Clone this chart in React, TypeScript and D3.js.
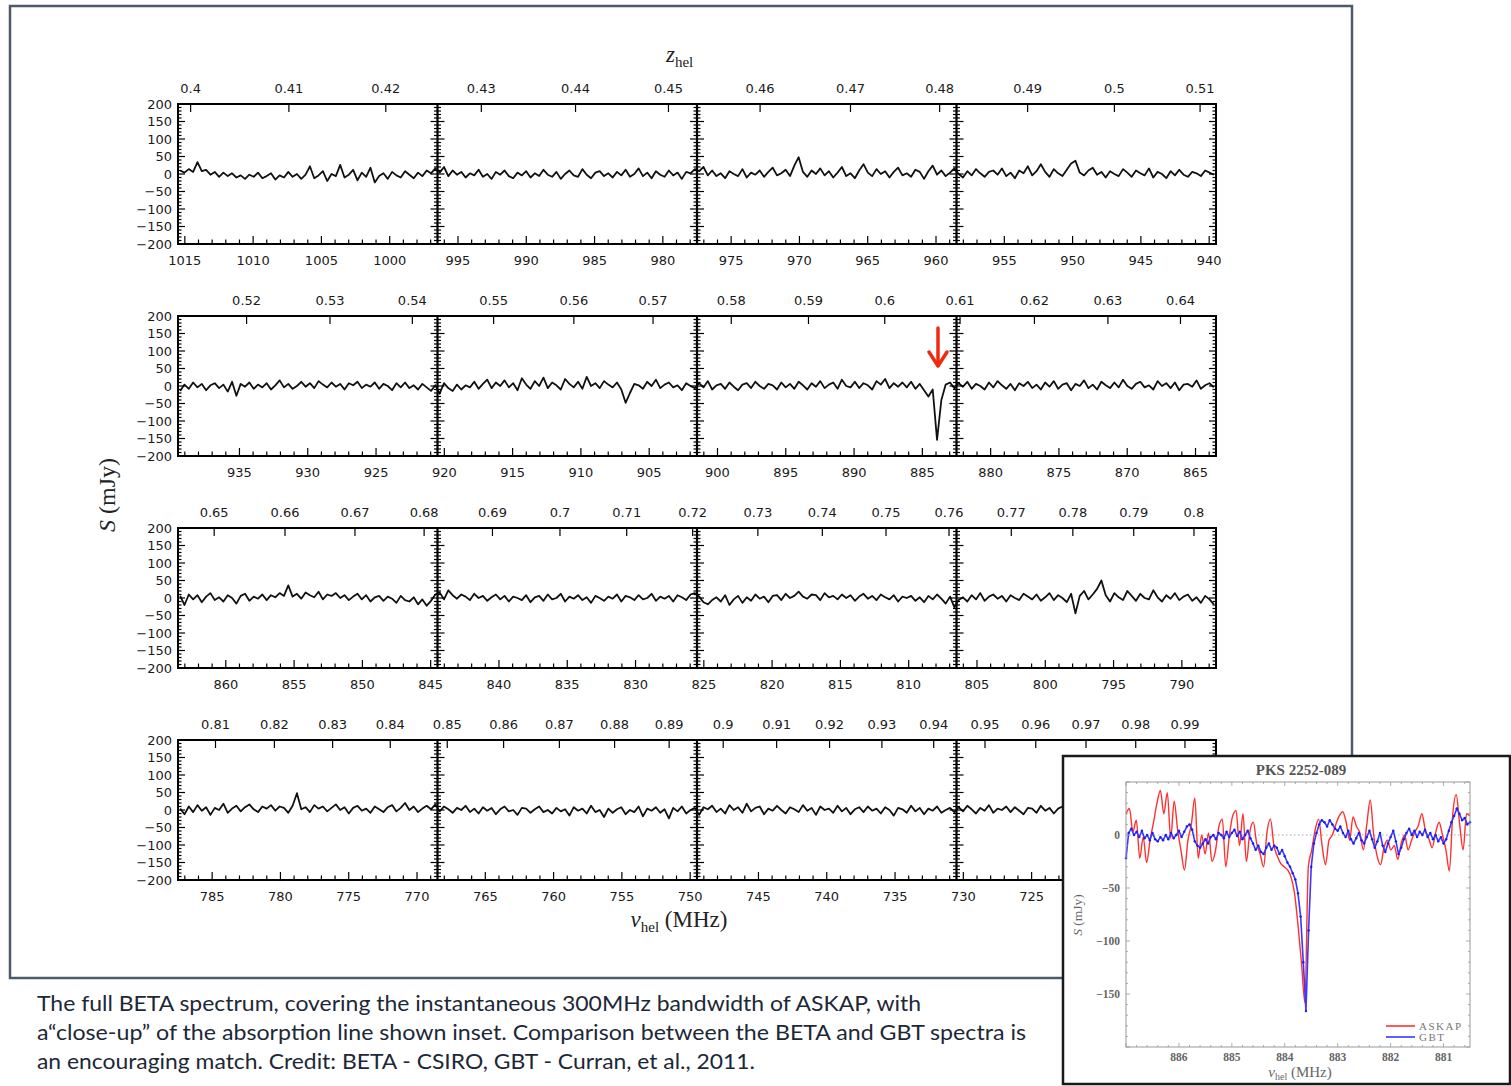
import React from "react";
import * as d3 from "d3";

// ---------------- DATA ----------------
const ROW_STARTS = [1015.5, 939.5, 863.5, 787.5]; // MHz at left edge of each row
const ROW_SPAN = 76; // MHz per row
const Y_TICKS = [-200, -150, -100, -50, 0, 50, 100, 150, 200];
const Z_TICKS = [
  [0.4, 0.41, 0.42, 0.43, 0.44, 0.45, 0.46, 0.47, 0.48, 0.49, 0.5, 0.51],
  [0.52, 0.53, 0.54, 0.55, 0.56, 0.57, 0.58, 0.59, 0.6, 0.61, 0.62, 0.63, 0.64],
  [0.65, 0.66, 0.67, 0.68, 0.69, 0.7, 0.71, 0.72, 0.73, 0.74, 0.75, 0.76, 0.77, 0.78, 0.79, 0.8],
  [0.81, 0.82, 0.83, 0.84, 0.85, 0.86, 0.87, 0.88, 0.89, 0.9, 0.91, 0.92, 0.93, 0.94, 0.95, 0.96, 0.97, 0.98, 0.99],
];
// bottom labels (labels of the last row beyond 725 MHz lie under the inset)
const NU_TICKS = [
  [1015, 1010, 1005, 1000, 995, 990, 985, 980, 975, 970, 965, 960, 955, 950, 945, 940],
  [935, 930, 925, 920, 915, 910, 905, 900, 895, 890, 885, 880, 875, 870, 865],
  [860, 855, 850, 845, 840, 835, 830, 825, 820, 815, 810, 805, 800, 795, 790],
  [785, 780, 775, 770, 765, 760, 755, 750, 745, 740, 735, 730, 725],
];

const row1 = [
  10, 4, 14, 6, 34, 8, 12, -2, 6, -8, 4, -6, 2, -10, -4, -14, -2, -8, 4, -12,
  -6, 2, -16, -4, -10, 6, -8, 0, -14, -2, 22, -12, -4, 8, -20, 0, -6, 26, -10, -2,
  12, -18, 4, -8, 18, -24, -6, 2, -14, 6, -4, -10, 8, -2, -12, 4, -6, 10, 2, 16,
  4, 20, -6, 10, -2, 6, -10, 2, -4, 12, -8, 0, -14, 6, -2, 10, -6, -12, 4, -4,
  8, -10, 2, -6, 12, -2, -8, 6, -14, 0, 10, -4, -8, 14, -2, -12, 4, 8, -6, 2,
  -10, 6, -4, 12, -8, 0, 16, -6, 4, -12, 8, -2, -8, 10, -4, 4, -14, 6, 2, 14,
  8, 20, -4, 10, -6, 2, -12, 8, 0, -6, 14, -10, 4, -2, 10, -8, 6, 18, -4, 2,
  12, -6, 24, 48, 6, -8, 10, 0, 16, -4, 8, -10, 4, 20, -6, 2, -12, 10, 28, 4,
  -6, 14, 0, 8, -10, 6, 18, -4, 2, -8, 12, 6, -14, 8, 24, -2, 10, -6, 4, 16,
  0, -10, 8, -4, 14, 2, -8, 6, 10, -2, 16, -6, 4, -12, 10, 2, 22, -4, 8, 28,
  6, -8, 14, 2, -6, 12, 30, 38, 4, -4, 10, 18, -2, 6, -10, 8, 0, -6, 14, 4,
  -8, 10, 2, -4, 16, -10, 6, 0, -12, 8, -4, 12, -2, -8, 6, 2, -6, 10, 4, -2,
];
const row2 = [
  -14, 4, -8, 10, -4, 6, -12, 2, 8, -6, 4, -16, 12, -28, 6, -2, 10, -8, 4, -4,
  8, -10, 2, 16, -4, 6, -8, 0, 12, -2, 8, -6, 14, 4, -4, 10, -2, 6, -10, 8,
  2, 12, -6, 4, -2, 10, -8, 6, 0, -12, 8, -4, 10, -6, 2, -10, 6, -4, -14, 2,
  -22, 8, -6, -14, 4, -10, 2, -4, 12, -8, 6, 18, -6, 10, 0, 16, -4, 8, -12, 22,
  4, -8, 14, 0, 24, -6, 10, 2, -10, 20, 6, -4, 12, -8, 26, 0, 8, -6, 14, 4,
  -4, 10, -10, -48, -20, 6, 2, -8, 12, 0, 18, -6, 4, 10, -4, 2, -12, 8, 0, -6,
  8, -4, 14, -10, 2, 6, -8, 10, -2, -12, 4, 8, -6, 12, 0, -8, 6, 2, -10, 10,
  -4, 6, -8, 12, 2, -10, 8, -2, 14, -6, 4, 10, -8, 18, 0, -4, 12, -6, 8, 2,
  -10, 14, 4, 20, -6, 8, -2, 10, -4, 12, -8, 6, -12, -30, -10, -154, -40, 4, 10, -6,
  8, -2, 12, -8, 6, 0, -10, 10, -4, 14, 2, -8, 6, -12, 8, 0, 12, -6, 4, -10,
  10, -2, 14, -8, 4, 8, -12, 6, 0, 16, -6, 4, -10, 12, 2, -6, 10, -4, 18, 0,
  -8, 6, 12, -4, 2, -10, 14, 0, 8, -6, 10, -12, 4, 6, -2, 16, -8, 2, 8, -4,
];
const row3 = [
  6, -20, 10, -4, 8, -12, 4, 14, -6, 2, -10, 8, 0, -16, 6, 12, -8, 4, -2, 10,
  -6, 8, 2, 14, 6, 36, 4, 12, -2, 16, 8, 2, 18, -4, 10, 6, 14, 0, 8, -6,
  4, 12, -4, 8, -10, 2, 6, -8, 4, -2, -14, 6, -6, -10, 2, -18, -4, -22, -8, 10,
  16, -4, 22, 8, -2, 10, 4, -6, 12, 0, 6, -8, 2, 10, -4, 6, -10, 4, 0, -6,
  8, -12, 2, 6, -8, 10, -4, 0, 12, -10, 4, -2, 8, -6, 2, -14, 6, 0, -8, 4,
  -2, 10, -10, 6, 2, -6, 8, -4, 0, 12, -8, 4, -2, 6, -10, 8, 2, -6, 10, 14,
  4, -12, -18, -6, 2, -10, 8, -20, -4, 6, -14, 2, -8, 10, -2, 4, -12, 6, 8, -6,
  12, 0, 6, 18, 4, -2, 10, 8, -6, 14, 2, 6, -4, 10, 0, 8, -8, 4, 12, -2,
  6, -6, 10, 2, -4, 8, -10, 4, 0, 6, -8, 2, -12, 6, -4, 10, -2, -16, 4, -26,
  -6, 2, -10, 8, -4, 14, -8, 4, 10, -2, 6, -10, 8, 0, -6, 12, 4, -4, 10, -8,
  2, 14, -6, 8, 0, -12, 12, -44, 6, 20, -4, 10, 26, 50, 8, -10, 14, 2, -6, 20,
  6, -8, 12, 0, -4, 22, 2, -10, 8, -2, 14, -6, 4, 10, -8, 2, -14, 6, -4, -18,
];
const row4 = [
  4, -12, 10, -6, 14, -2, 8, -14, 6, 0, 18, -8, 4, 12, -4, 8, 16, 2, -6, 10,
  4, 14, -2, 10, 6, -8, 12, 48, 2, 8, -6, 14, 4, 10, -4, 6, 16, 0, 8, -10,
  6, 12, -2, 4, -8, 10, 2, -6, 8, 14, -4, 6, 20, 0, 10, -6, 4, 12, 2, 16,
  -4, 10, 2, -8, 6, 0, 12, -6, 4, -10, 8, -2, 6, -12, 2, 10, -4, 0, -14, 6,
  4, -8, 2, 10, -6, 0, -10, 6, -4, 2, -16, 8, -2, 4, -10, 12, -6, 0, -20, 4,
  -8, 2, 8, -12, 0, -6, 10, -18, 4, -2, 8, -8, 2, -24, 6, -4, 10, -10, 0, 6,
  -14, 8, 2, 12, -6, 4, -10, 14, 0, 8, -8, 18, -4, 6, 10, -12, 4, -2, 12, 0,
  -10, 8, 2, -6, 14, -2, 6, -14, 10, 0, 4, -8, 12, -4, 6, -12, 2, 8, -6, 10,
  -2, 4, -10, 8, 0, -16, 6, 2, -8, 12, -4, 6, -12, 4, -2, 10, -8, 0, 6, -6,
  8, -4, 12, 2, -10, 6, -2, 14, -8, 4, 0, 10, -6, 8, -2, -12, 6, 4, -8, 12,
  -2, 6, -10, 4, 10, -6, 2, -14, 8, 0, 6, -8, 12, -2, 4, -10, 8, -4, 0, 6,
  -8, 10, 2, -6, 14, -4, 6, -12, 2, 8, -6, 12, 0, -10, 6, 4, -8, 10, -2, 4,
];
const ROWS = [row1, row2, row3, row4];

// inset ("close-up") data
const ASKAP_START = 887.0;
const ASKAP_STEP = 0.065;
const ASKAP = [
  20, 25, 3, 14, -22, -2, -26, -5, 12, 30, 42, 20, 40, -3, 32, 5, -15, -33, -5, 10,
  35, -22, 0, -18, 2, -25, -15, 8, 15, -30, -2, 18, 23, -10, 20, -25, 3, 12, -8, -18,
  -30, 3, 15, -10, -20, -27, -30, -33, -40, -55, -85, -120, -158, -30, -14, 5, 15, -10, -28, -5,
  0, 10, 18, 22, 12, -5, 17, 8, 2, -14, 10, 33, 0, -20, -28, -12, -5, -14, -10, -23,
  -8, 0, -14, -5, 3, 9, 20, 5, -3, -12, 2, 12, 0, -14, -34, 20, 38, 10, -14, 20, 18,
];
const GBT_START = 887.0;
const GBT_STEP = 0.05;
const GBT = [
  -22, 2, 6, 0, 3, -2, 4, -3, 0, -5, 2, -4, -6, -2, -5, 0, -4, 2, -3, 0,
  4, -2, 3, 8, 10, 5, -6, -10, -12, -8, -4, -8, -2, 0, -4, 2, 0, -3, 3, -2,
  2, 5, -1, 3, -4, 0, 4, -3, -8, -14, -10, -16, -18, -12, -8, -14, -10, -12, -18, -14,
  -20, -26, -30, -36, -42, -55, -77, -120, -166, -90, -30, -8, 2, 10, 14, 12, 8, 14, 10, 6,
  4, 8, 2, -2, 4, -4, -8, -3, 2, -5, -8, -2, 4, -4, -12, -6, 2, -10, -16, -8,
  -2, 4, -6, -18, -12, -4, 2, 6, 0, 4, -2, 3, 0, 5, -2, 2, -4, 0, -6, -2,
  -8, -4, 4, 12, 18, 25, 20, 14, 16, 10, 12,
];
const INSET_X_TICKS = [886, 885, 884, 883, 882, 881];
const INSET_Y_TICKS = [0, -50, -100, -150];
const LEGEND = [
  { name: "ASKAP", color: "#ff3030" },
  { name: "GBT", color: "#3838ff" },
];
const CAPTION = [
  "The full BETA spectrum, covering the instantaneous 300MHz bandwidth of ASKAP, with",
  "a\u201cclose-up\u201d of the absorption line shown inset. Comparison between the BETA and GBT spectra is",
  "an encouraging match. Credit: BETA - CSIRO, GBT - Curran, et al., 2011.",
];

// ---------------- LAYOUT ----------------
const W = 1511;
const H = 1086;
const L = 178;
const R = 1216;
const ROW_TOPS = [104, 316, 528, 740];
const ROW_H = 140;
const REST = 1420.405752;
const SANS = "'DejaVu Sans', sans-serif";
const SERIF = "'Liberation Serif', 'DejaVu Serif', serif";
const CAP_W = [884, 989, 718];

const fmtZ = (z: number) => String(parseFloat(z.toFixed(2)));
const minus = (v: number) => (v < 0 ? "\u2212" + Math.abs(v) : String(v));

function Row({ r }: { r: number }) {
  const start = ROW_STARTS[r];
  const top = ROW_TOPS[r];
  const bottom = top + ROW_H;
  const x = d3.scaleLinear().domain([start, start - ROW_SPAN]).range([L, R]);
  const y = d3.scaleLinear().domain([-200, 200]).range([bottom, top]);
  const data = ROWS[r];
  const n = data.length;
  const line = d3
    .line<number>()
    .x((_, i) => x(start - ((i + 0.5) * ROW_SPAN) / n))
    .y((d) => y(d));
  const dividers = d3.range(5).map((k) => L + (k * (R - L)) / 4);
  const minorY = d3.range(-200, 201, 10);
  const minorNu = d3.range(Math.ceil(start - ROW_SPAN), Math.floor(start) + 1);
  const ticks: JSX.Element[] = [];
  dividers.forEach((dx, k) => {
    minorY.forEach((v) => {
      const len = v % 50 === 0 ? 7 : 3.5;
      if (v === -200 || v === 200) return;
      if (k < 4) ticks.push(<line key={`r${k}_${v}`} x1={dx} x2={dx + len} y1={y(v)} y2={y(v)} />);
      if (k > 0) ticks.push(<line key={`l${k}_${v}`} x1={dx} x2={dx - len} y1={y(v)} y2={y(v)} />);
    });
  });
  minorNu.forEach((v) => {
    const len = v % 5 === 0 ? 8 : 4.5;
    ticks.push(<line key={`b${v}`} x1={x(v)} x2={x(v)} y1={bottom} y2={bottom - len} />);
  });
  Z_TICKS[r].forEach((z) => {
    const nu = REST / (1 + z);
    ticks.push(<line key={`t${z}`} x1={x(nu)} x2={x(nu)} y1={top} y2={top + 8} />);
  });
  return (
    <g>
      <path d={line(data) || ""} fill="none" stroke="#111" strokeWidth={1.8} strokeLinejoin="round" />
      <g stroke="#000" strokeWidth={1.2}>{ticks}</g>
      <rect x={L} y={top} width={R - L} height={ROW_H} fill="none" stroke="#000" strokeWidth={2} />
      {dividers.slice(1, 4).map((dx) => (
        <line key={dx} x1={dx} x2={dx} y1={top} y2={bottom} stroke="#000" strokeWidth={2.2} />
      ))}
      <g fontFamily={SANS} fontSize={13} fill="#1a1a1a">
        {Y_TICKS.map((v) => (
          <text key={v} x={172} y={y(v)} dy="0.36em" textAnchor="end">
            {minus(v)}
          </text>
        ))}
        {NU_TICKS[r].map((v) => (
          <text key={v} x={x(v)} y={bottom + 16} dy="0.36em" textAnchor="middle">
            {v}
          </text>
        ))}
        {Z_TICKS[r].map((z) => (
          <text key={z} x={x(REST / (1 + z))} y={top - 16} dy="0.36em" textAnchor="middle">
            {fmtZ(z)}
          </text>
        ))}
      </g>
    </g>
  );
}

function Inset() {
  const bx = 1063, by = 756, bw = 447, bh = 328;
  const pl = 1126, pr = 1470, pt = 782, pb = 1047;
  const x = d3.scaleLinear().domain([887, 880.5]).range([pl, pr]);
  const y = d3.scaleLinear().domain([-200, 50]).range([pb, pt]);
  const lineA = d3
    .line<number>()
    .x((_, i) => x(ASKAP_START - i * ASKAP_STEP))
    .y((d) => y(d))
    .curve(d3.curveMonotoneX);
  const lineG = d3
    .line<number>()
    .x((_, i) => x(GBT_START - i * GBT_STEP))
    .y((d) => y(d));
  const xMinor = d3.range(0, 33).map((k) => 887 - k * 0.2).filter((v) => v >= 880.5);
  const yMinor = d3.range(-200, 51, 10);
  const ticks: JSX.Element[] = [];
  xMinor.forEach((v, k) => {
    const major = Math.abs(v - Math.round(v)) < 1e-6;
    const len = major ? 4 : 2;
    ticks.push(<line key={`xb${k}`} x1={x(v)} x2={x(v)} y1={pb} y2={pb - len} />);
    ticks.push(<line key={`xt${k}`} x1={x(v)} x2={x(v)} y1={pt} y2={pt + len} />);
  });
  yMinor.forEach((v) => {
    const len = v % 50 === 0 ? 4 : 2;
    ticks.push(<line key={`yl${v}`} x1={pl} x2={pl + len} y1={y(v)} y2={y(v)} />);
    ticks.push(<line key={`yr${v}`} x1={pr} x2={pr - len} y1={y(v)} y2={y(v)} />);
  });
  return (
    <g>
      <rect x={bx} y={by} width={bw} height={bh} fill="#fff" stroke="#1a1a1a" strokeWidth={2.5} />
      <text x={1301} y={775} textAnchor="middle" fontFamily={SERIF} fontWeight="bold" fontSize={15} fill="#555">
        PKS 2252-089
      </text>
      <line x1={pl} x2={pr} y1={y(0)} y2={y(0)} stroke="#aaa" strokeWidth={1} strokeDasharray="1.5,2.5" />
      <path d={lineA(ASKAP) || ""} fill="none" stroke={LEGEND[0].color} strokeWidth={1.4} strokeLinejoin="round" />
      <path d={lineG(GBT) || ""} fill="none" stroke={LEGEND[1].color} strokeWidth={1.6} strokeLinejoin="round" />
      {GBT.map((v, i) => (
        <circle key={i} cx={x(GBT_START - i * GBT_STEP)} cy={y(v)} r={1.2} fill="#1a1aee" />
      ))}
      <g stroke="#999" strokeWidth={0.8}>{ticks}</g>
      <rect x={pl} y={pt} width={pr - pl} height={pb - pt} fill="none" stroke="#999" strokeWidth={1} />
      <g fontFamily={SERIF} fontWeight="bold" fontSize={11.5} fill="#666">
        {INSET_X_TICKS.map((v) => (
          <text key={v} x={x(v)} y={1061} textAnchor="middle">
            {v}
          </text>
        ))}
        {INSET_Y_TICKS.map((v) => (
          <text key={v} x={1120} y={y(v)} dy="0.35em" textAnchor="end">
            {minus(v)}
          </text>
        ))}
      </g>
      <text
        transform="translate(1082,915) rotate(-90)"
        textAnchor="middle"
        fontFamily={SERIF}
        fontSize={13.5}
        fill="#666"
      >
        <tspan fontStyle="italic">S</tspan> (mJy)
      </text>
      <text x={1300} y={1077} textAnchor="middle" fontFamily={SERIF} fontSize={15} fill="#666">
        <tspan fontStyle="italic">ν</tspan>
        <tspan fontSize={10} dy={3}>hel</tspan>
        <tspan dy={-3}> (MHz)</tspan>
      </text>
      {LEGEND.map((l, i) => (
        <g key={l.name}>
          <line x1={1386} x2={1415} y1={1026 + i * 11} y2={1026 + i * 11} stroke={l.color} strokeWidth={1.6} />
          <text
            x={1419}
            y={1030 + i * 11}
            fontFamily={SERIF}
            fontSize={11}
            letterSpacing={1.5}
            fill="#777"
          >
            {l.name}
          </text>
        </g>
      ))}
    </g>
  );
}

export default function App() {
  return (
    <div style={{ position: "absolute", left: 0, top: 0, width: W, height: H }}>
      <svg width={W} height={H} viewBox={`0 0 ${W} ${H}`} style={{ display: "block", background: "#fff" }}>
        <rect x={10} y={6} width={1342} height={972} fill="none" stroke="#4d5a6a" strokeWidth={2.5} />
        {ROW_STARTS.map((_, r) => (
          <Row key={r} r={r} />
        ))}
        {/* axis labels */}
        <text x={666} y={62} fontFamily={SERIF} fontSize={23} fill="#222">
          <tspan fontStyle="italic">z</tspan>
          <tspan fontSize={15} dy={5}>hel</tspan>
        </text>
        <text x={679} y={927} textAnchor="middle" fontFamily={SERIF} fontSize={23} fill="#222">
          <tspan fontStyle="italic">ν</tspan>
          <tspan fontSize={15} dy={5}>hel</tspan>
          <tspan dy={-5}> (MHz)</tspan>
        </text>
        <text
          transform="translate(115,495) rotate(-90)"
          textAnchor="middle"
          fontFamily={SERIF}
          fontSize={24}
          fill="#222"
        >
          <tspan fontStyle="italic">S</tspan> (mJy)
        </text>
        {/* red arrow marking the absorption line */}
        <g stroke="#ee2a10" strokeWidth={3.5} fill="none" strokeLinecap="round" strokeLinejoin="round">
          <line x1={938} x2={938} y1={328} y2={365} />
          <polyline points="929,352 938,366 947,352" />
        </g>
        <Inset />
        <g fontFamily="Lato, 'Open Sans', sans-serif" fontSize={21} fill="#1c2838">
          {CAPTION.map((c, i) => (
            <text key={i} x={37} y={1011 + i * 29} textLength={CAP_W[i]} lengthAdjust="spacingAndGlyphs">
              {c}
            </text>
          ))}
        </g>
      </svg>
    </div>
  );
}
